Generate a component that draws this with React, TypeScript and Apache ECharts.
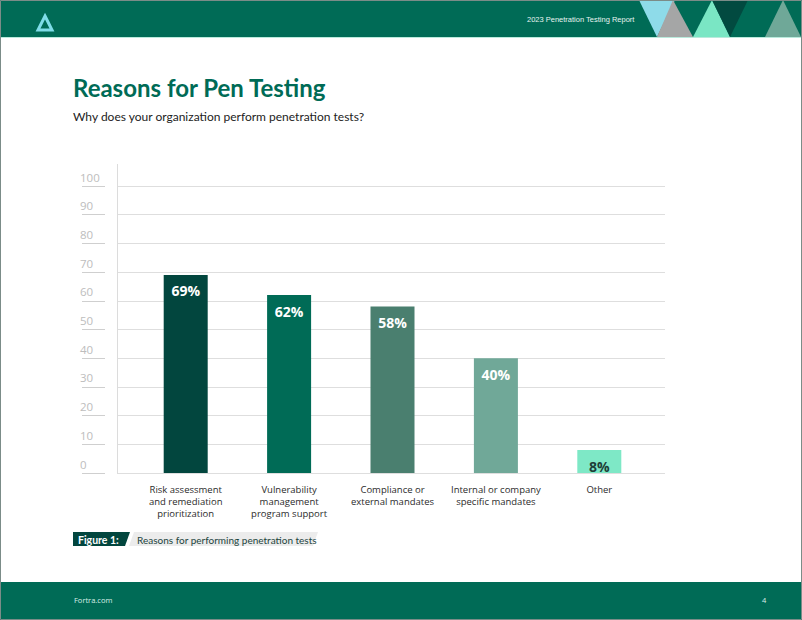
import React, { useEffect, useRef } from "react";
import * as echarts from "echarts";

const categories = [
  "Risk assessment\nand remediation\nprioritization",
  "Vulnerability\nmanagement\nprogram support",
  "Compliance or\nexternal mandates",
  "Internal or company\nspecific mandates",
  "Other",
];
const values = [69, 62, 58, 40, 8];
const barColors = ["#02463e", "#006b56", "#4a7f6f", "#70a898", "#7ee8c6"];
const labelColors = ["#ffffff", "#ffffff", "#ffffff", "#ffffff", "#1d3f38"];
const yTicks = [0, 10, 20, 30, 40, 50, 60, 70, 80, 90, 100];

const GREEN = "#006b56";
const FONT = "'Open Sans', 'Noto Sans', sans-serif";
const LATO = "Lato, 'Open Sans', sans-serif";

export default function App() {
  const ref = useRef<HTMLDivElement>(null);
  useEffect(() => {
    document.body.style.margin = "0";
    const chart = echarts.init(ref.current!, null, { renderer: "svg" });
    const option: any = {
      animation: false,
      backgroundColor: "#ffffff",
      textStyle: { fontFamily: FONT },
      grid: [
        { left: 117, top: 186, width: 548, height: 287 },
        { left: 134, top: 186, width: 517, height: 287 },
      ],
      xAxis: [
        { gridIndex: 0, type: "category", data: categories, show: false },
        {
          gridIndex: 1,
          type: "category",
          data: categories,
          axisLine: { show: false },
          axisTick: { show: false },
          axisLabel: {
            margin: 10,
            fontSize: 9.5,
            lineHeight: 12,
            color: "#2b2b2b",
            fontFamily: FONT,
            interval: 0,
          },
        },
      ],
      yAxis: [
        {
          gridIndex: 0,
          type: "value",
          position: "left",
          min: 0,
          max: 100,
          interval: 10,
          axisLine: { show: true, lineStyle: { color: "#dcdcdc", width: 1 } },
          axisTick: { show: false },
          axisLabel: { show: false },
          splitLine: { show: true, lineStyle: { color: "#dedede", width: 1 } },
        },
        {
          gridIndex: 0,
          type: "value",
          position: "left",
          min: 0,
          max: 100,
          interval: 10,
          offset: 12,
          axisLine: { show: false },
          axisTick: { show: true, length: 23, lineStyle: { color: "#cfcfcf" } },
          splitLine: { show: false },
          axisLabel: {
            margin: 25,
            align: "left",
            verticalAlign: "bottom",
            padding: [0, 0, 3, 0],
            fontSize: 11.5,
            color: "#bdbdbd",
            fontFamily: FONT,
            formatter: (v: number) => (yTicks.includes(v) ? String(v) : ""),
          },
        },
        { gridIndex: 1, type: "value", min: 0, max: 100, show: false },
      ],
      series: [
        {
          type: "bar",
          xAxisIndex: 1,
          yAxisIndex: 2,
          barWidth: 44,
          data: values.map((v, i) => ({
            value: v,
            itemStyle: { color: barColors[i] },
            label: { color: labelColors[i] },
          })),
          label: {
            show: true,
            position: "insideTop",
            distance: 9,
            fontSize: 14,
            fontWeight: "bold",
            fontFamily: FONT,
            formatter: (p: any) => p.value + "%",
          },
        },
      ],
      graphic: [
        // header
        { type: "rect", shape: { x: 0, y: 0, width: 802, height: 37 }, style: { fill: GREEN } },
        { type: "line", shape: { x1: 0, y1: 37.5, x2: 802, y2: 37.5 }, style: { stroke: "#b9eadc", lineWidth: 1 } },
        { type: "polygon", shape: { points: [[639, 0], [675, 0], [657, 37]] }, style: { fill: "#8edbe9" } },
        { type: "polygon", shape: { points: [[673, 0], [693, 37], [657, 37]] }, style: { fill: "#a5a6a6" } },
        { type: "polygon", shape: { points: [[712, 0], [730, 37], [693, 37]] }, style: { fill: "#7ae6c4" } },
        { type: "polygon", shape: { points: [[712, 0], [748, 0], [730, 37]] }, style: { fill: "#024a40" } },
        { type: "polygon", shape: { points: [[783, 0], [801, 37], [765, 37]] }, style: { fill: "#6fa898" } },
        {
          type: "polygon",
          shape: { points: [[45, 16], [52, 30], [38, 30]] },
          style: { fill: "none", stroke: "#7fdde8", lineWidth: 3, lineJoin: "miter" },
        },
        {
          type: "text",
          x: 527,
          y: 19,
          style: {
            text: "2023 Penetration Testing Report",
            fill: "#e6f3ef",
            fontSize: 7.5,
            fontFamily: "'Liberation Sans Narrow', 'Liberation Sans', sans-serif",
            verticalAlign: "middle",
          },
        },
        // title
        {
          type: "text",
          x: 73,
          y: 99,
          style: {
            text: "Reasons for Pen Testing",
            fill: "#006b56",
            fontSize: 24,
            fontWeight: "bold",
            fontFamily: LATO,
            verticalAlign: "bottom",
          },
        },
        {
          type: "text",
          x: 73,
          y: 122,
          style: {
            text: "Why does your organization perform penetration tests?",
            fill: "#222222",
            fontSize: 12,
            fontFamily: LATO,
            verticalAlign: "bottom",
          },
        },
        // y axis extension
        { type: "line", shape: { x1: 117.5, y1: 164, x2: 117.5, y2: 186 }, style: { stroke: "#dcdcdc", lineWidth: 1 } },
        // caption
        { type: "polygon", shape: { points: [[73, 532], [130, 532], [125, 546], [73, 546]] }, style: { fill: "#02463e" } },
        { type: "polygon", shape: { points: [[134, 532], [318, 532], [313, 546], [129, 546]] }, style: { fill: "#ececec" } },
        {
          type: "text",
          x: 78,
          y: 539.5,
          style: { text: "Figure 1:", fill: "#ffffff", fontSize: 10.5, fontWeight: "bold", fontFamily: LATO, verticalAlign: "middle" },
        },
        {
          type: "text",
          x: 137,
          y: 539.5,
          style: { text: "Reasons for performing penetration tests", fill: "#22443d", fontSize: 10, fontFamily: LATO, verticalAlign: "middle" },
        },
        // footer
        { type: "rect", shape: { x: 0, y: 582, width: 802, height: 38 }, style: { fill: GREEN } },
        {
          type: "text",
          x: 74,
          y: 600,
          style: { text: "Fortra.com", fill: "#d9efe8", fontSize: 7.5, fontFamily: FONT, verticalAlign: "middle" },
        },
        {
          type: "text",
          x: 762,
          y: 600,
          style: { text: "4", fill: "#d9efe8", fontSize: 7.5, fontFamily: FONT, verticalAlign: "middle" },
        },
        // page border
        {
          type: "rect",
          shape: { x: 0.5, y: 0.5, width: 801, height: 619 },
          style: { fill: "none", stroke: "#7b8c88", lineWidth: 1 },
          z: 100,
        },
      ],
    };
    chart.setOption(option);
    return () => chart.dispose();
  }, []);
  return <div ref={ref} style={{ width: 802, height: 620, position: "fixed", left: 0, top: 0 }} />;
}
